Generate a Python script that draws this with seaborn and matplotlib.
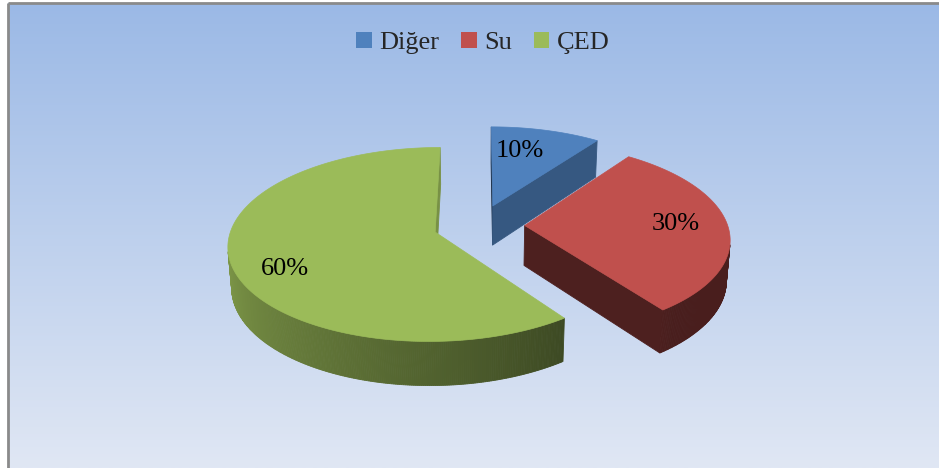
import numpy as np
import matplotlib
matplotlib.use("Agg")
import matplotlib.pyplot as plt
import seaborn as sns
from matplotlib.patches import Polygon, Patch
from matplotlib.colors import to_rgb

# ---- data ----
labels = ["Diğer", "Su", "ÇED"]
values = [10, 30, 60]
pct_labels = ["10%", "30%", "60%"]
colors = ["#4F81BD", "#C0504D", "#9BBB59"]

sns.set_theme(style="white")
plt.rcParams['font.family'] = ['Liberation Serif', 'DejaVu Serif']

W, H = 939, 468
fig = plt.figure(figsize=(W / 100, H / 100), dpi=100)
ax = fig.add_axes([0, 0, 1, 1])

# background gradient
grad = np.linspace(0, 1, 256)[:, None, None]
top = np.array([155, 185, 230]) / 255
bot = np.array([224, 231, 244]) / 255
img = top + (bot - top) * grad
ax.imshow(img, extent=[8, W, H, 3], aspect='auto', zorder=0, interpolation='bilinear')
ax.plot([8, 8], [3, H], color='#8a8a8a', lw=2, zorder=1, solid_capstyle='butt')
ax.plot([8, W], [3, 3], color='#8a8a8a', lw=2, zorder=1, solid_capstyle='butt')

# ---- 3D pie geometry ----
cx, cy, Rpx = 479, 225.5, 203
theta = np.deg2rad(27.5)
Dcam = 7.0
hgt = 0.225
explode = 0.225
cam = np.array([0.0, -Dcam * np.cos(theta), Dcam * np.sin(theta)])


def proj(x, y, z):
    v = y * np.sin(theta) + z * np.cos(theta)
    d = y * np.cos(theta) - z * np.sin(theta)
    s = Dcam / (Dcam + d)
    return cx + Rpx * x * s, cy - Rpx * v * s


def depth(x, y, z):
    return y * np.cos(theta) - z * np.sin(theta)


def shade(c, f):
    r = np.array(to_rgb(c)) * f
    return tuple(np.clip(r, 0, 1))


def wall_bright(phi):
    p = phi % 360
    return 0.38 + 0.47 * np.clip((p - 140) / 130, 0, 1)


def radial_bright(nang):
    n = nang % 360
    return float(np.clip(0.68 - (n - 126) / 108 * 0.28, 0.38, 0.9))


total = sum(values)
cum = np.concatenate([[0], np.cumsum(values)])
slices = []
for i, v in enumerate(values):
    a0 = 360 * cum[i] / total
    a1 = 360 * cum[i + 1] / total
    mid = np.deg2rad((a0 + a1) / 2)
    ox, oy = explode * np.sin(mid), explode * np.cos(mid)
    slices.append((i, a0, a1, ox, oy))

z = 10
for (i, a0, a1, ox, oy) in sorted(slices, key=lambda s: -s[4]):
    col = colors[i]
    faces = []
    # radial faces
    for ang, nang in ((a0, a0 - 90), (a1, a1 + 90)):
        r = np.deg2rad(ang)
        rx, ry = ox + np.sin(r), oy + np.cos(r)
        n = np.array([np.sin(np.deg2rad(nang)), np.cos(np.deg2rad(nang)), 0])
        pm = np.array([(ox + rx) / 2, (oy + ry) / 2, -hgt / 2])
        if np.dot(cam - pm, n) > 0:
            pts = [proj(ox, oy, 0), proj(rx, ry, 0), proj(rx, ry, -hgt), proj(ox, oy, -hgt)]
            faces.append((depth(*pm), pts, shade(col, radial_bright(nang))))
    # outer wall
    phis = np.linspace(a0, a1, int(max(8, (a1 - a0) * 2)) + 1)
    for p0, p1 in zip(phis[:-1], phis[1:]):
        pm_ang = np.deg2rad((p0 + p1) / 2)
        n = np.array([np.sin(pm_ang), np.cos(pm_ang), 0])
        pm = np.array([ox + np.sin(pm_ang), oy + np.cos(pm_ang), -hgt / 2])
        if np.dot(cam - pm, n) > 0:
            r0, r1 = np.deg2rad(p0), np.deg2rad(p1)
            pts = [proj(ox + np.sin(r0), oy + np.cos(r0), 0),
                   proj(ox + np.sin(r1), oy + np.cos(r1), 0),
                   proj(ox + np.sin(r1), oy + np.cos(r1), -hgt),
                   proj(ox + np.sin(r0), oy + np.cos(r0), -hgt)]
            faces.append((depth(*pm), pts, shade(col, wall_bright((p0 + p1) / 2))))
    for d, pts, fc in sorted(faces, key=lambda f: -f[0]):
        ax.add_patch(Polygon(pts, closed=True, facecolor=fc, edgecolor=fc, lw=0.6, zorder=z))
        z += 0.001
    # top face
    rr = np.deg2rad(np.linspace(a0, a1, 200))
    tp = [proj(ox, oy, 0)] + [proj(ox + np.sin(r), oy + np.cos(r), 0) for r in rr]
    ax.add_patch(Polygon(tp, closed=True, facecolor=col, edgecolor=col, lw=0.5, zorder=z))
    z += 1

# data labels
for (i, a0, a1, ox, oy) in slices:
    la = np.deg2rad((a0 + a1) / 2 - 6)
    X, Y = proj(ox + 0.76 * np.sin(la), oy + 0.76 * np.cos(la), 0)
    ax.text(X, Y + 6, pct_labels[i], ha='center', va='center', fontsize=19,
            color='black', zorder=50)

ax.set_xlim(0, W)
ax.set_ylim(H, 0)
ax.axis('off')

handles = [Patch(facecolor=c, edgecolor='none') for c in colors]
fig.legend(handles, labels, loc='center', bbox_to_anchor=(483 / W, 1 - 43 / H),
           ncol=3, frameon=False, fontsize=19, handlelength=0.6, handleheight=0.6,
           handletextpad=0.3, columnspacing=0.8)

fig.savefig("out.png", dpi=100)
